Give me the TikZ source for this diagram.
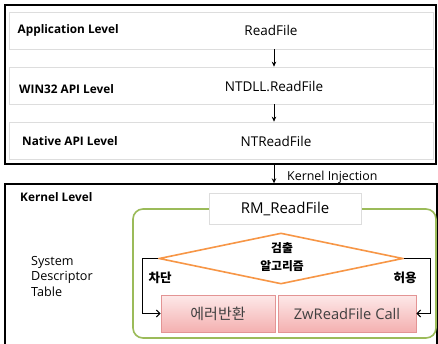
\documentclass[tikz,border=0pt]{standalone}
\usepackage{fontspec}
\setmainfont{Open Sans}
\newfontfamily\kr{Noto Sans CJK KR}
\usetikzlibrary{arrows.meta,shapes.geometric}
\definecolor{rowline}{HTML}{DDDDDD}
\definecolor{okgreen}{HTML}{9BBB59}
\definecolor{detorange}{HTML}{F79646}
\definecolor{pinktop}{HTML}{FDE9E9}
\definecolor{pinkbot}{HTML}{F4B0B0}
\definecolor{pinkline}{HTML}{E39494}
\definecolor{boxtext}{HTML}{404040}
\begin{document}
\begin{tikzpicture}[x=1pt,y=-1pt,
  frame/.style={draw=black,line width=1.4pt,fill=white,inner sep=0pt},
  levelrow/.style={draw=rowline,line width=0.7pt,fill=white,inner sep=0pt},
  levelname/.style={anchor=west,inner sep=0pt,font=\bfseries\fontsize{11.8}{14}\selectfont},
  callname/.style={font=\fontsize{13.5}{16}\selectfont},
  downarr/.style={draw=black,line width=0.9pt,-{Stealth[length=5pt,width=4.5pt]}},
  sidearr/.style={draw=black,line width=1.1pt,-{Straight Barb[length=3.5pt,width=7pt]}},
  pinkbox/.style={draw=pinkline,line width=0.8pt,top color=pinktop,bottom color=pinkbot,
    inner sep=0pt,text=boxtext,font=\fontsize{14.7}{17}\selectfont},
  branchlbl/.style={font=\kr\bfseries\fontsize{12.5}{14}\selectfont}]
\useasboundingbox (0,0) rectangle (438,343);

% user-mode frame with its three levels
\node[frame,minimum width=431,minimum height=159] (user) at (220.5,84.5) {};
\node[levelrow,minimum width=424,minimum height=37] (r1) at (221,30.5) {};
\node[levelrow,minimum width=424,minimum height=37] (r2) at (221,85.5) {};
\node[levelrow,minimum width=424,minimum height=37] (r3) at (221,140.5) {};
\node[levelname] (l1) at (17.5,30.5) {Application Level};
\node[levelname] (l2) at (19,89) {WIN32 API Level};
\node[levelname] (l3) at (22,141.5) {Native API Level};
\node[callname] (c1) at (271,30.5) {ReadFile};
\node[callname] (c2) at (274,86) {NTDLL.ReadFile};
\node[callname] (c3) at (276,141) {NTReadFile};

% kernel frame
\node[frame,minimum width=432,minimum height=176] (kernel) at (221,272) {};
\node[levelname] (kl) at (20,197) {Kernel Level};
\node[anchor=west,inner sep=0pt,align=left,font=\fontsize{12.6}{15.5}\selectfont] (sdt) at (31,276)
  {System\\Descriptor\\Table};

% call chain arrows
\coordinate (ax) at (274,0);
\draw[downarr] (r1.south -| ax) -- (r2.north -| ax);
\draw[downarr] (r2.south -| ax) -- (r3.north -| ax);
\draw[downarr] (user.south -| ax) -- (kernel.north -| ax);
\node[anchor=west,inner sep=0pt,font=\fontsize{12.4}{14}\selectfont] (inj) at (287,177) {Kernel Injection};

% hooked routine
\draw[okgreen,line width=1.6pt,rounded corners=10pt] (133,209) rectangle (436,338);
\node[draw=rowline,line width=0.7pt,fill=white,minimum width=152,minimum height=31,
  inner sep=0pt,font=\fontsize{15}{17}\selectfont] (rm) at (285,208.5) {RM\_ReadFile};
\node[diamond,draw=detorange,line width=1.6pt,aspect=4.8,minimum width=244,
  minimum height=51,inner sep=0pt] (det) at (281,258.5) {};
\node[align=center,font=\kr\bfseries\fontsize{11.8}{18}\selectfont] (dettxt) at (282,257) {검출\\알고리즘};
\node[pinkbox,font=\kr\fontsize{15}{17}\selectfont,minimum width=114,minimum height=37] (err) at (218,313.5) {에러반환};
\node[pinkbox,minimum width=138,minimum height=37] (zw) at (347,313.5) {ZwReadFile Call};
\draw[sidearr] (det.west) -- ++(-16,0) |- (err.west);
\draw[sidearr] (det.east) -- ++(27,0) |- (zw.east);
\node[branchlbl] (blk) at (160,278) {차단};
\node[branchlbl] (alw) at (405,278) {허용};
\end{tikzpicture}
\end{document}
